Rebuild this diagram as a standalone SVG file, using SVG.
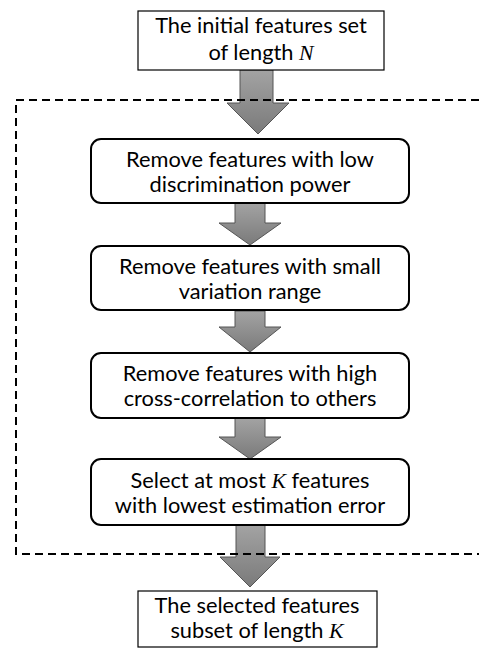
<svg xmlns="http://www.w3.org/2000/svg" width="479" height="648" viewBox="0 0 479 648">
<defs>
<linearGradient id="ag" x1="0" y1="0" x2="0" y2="1">
<stop offset="0" stop-color="#a3a3a3"/>
<stop offset="1" stop-color="#7a7a7a"/>
</linearGradient>
<style>
.t{font-family:Lato,"Open Sans","Liberation Sans",sans-serif;font-size:21.8px;fill:#000;text-anchor:middle}
.m{font-family:"Liberation Serif",serif;font-style:italic}
.sq{fill:#fff;stroke:#000;stroke-width:1.2}
.rd{fill:#fff;stroke:#000;stroke-width:2}
.ar{fill:url(#ag);stroke:#555;stroke-width:1}
.dash{fill:none;stroke:#000;stroke-width:2;stroke-dasharray:8 5}
</style>
</defs>
<rect width="479" height="648" fill="#fff"/>
<g id="connectors">
<path class="ar" d="M240,70 H273 V103 H289 L258,134 L227,103 H240 Z"/>
<path class="ar" d="M235,203 H265 V223 H281 L250,245 L219,223 H235 Z"/>
<path class="ar" d="M235,311 H265 V327 H281 L250,352 L219,327 H235 Z"/>
<path class="ar" d="M235,418 H265 V437 H281 L250,459 L219,437 H235 Z"/>
<path class="ar" d="M236,525 H265 V557 H280 L250,587 L220,557 H236 Z"/>
</g>
<path id="group-boundary" class="dash" d="M479,100 H16 V554 H479"/>
<g id="input">
<rect class="sq" x="138" y="11" width="246" height="59"/>
<text class="t" x="261" y="33">The initial features set</text>
<text class="t" x="261" y="60">of length <tspan class="m">N</tspan></text>
</g>
<g id="step1">
<rect class="rd" x="91" y="139" width="318" height="64" rx="10"/>
<text class="t" x="250" y="167">Remove features with low</text>
<text class="t" x="250" y="192">discrimination power</text>
</g>
<g id="step2">
<rect class="rd" x="91" y="246" width="318" height="64" rx="10"/>
<text class="t" x="250" y="274">Remove features with small</text>
<text class="t" x="250" y="299">variation range</text>
</g>
<g id="step3">
<rect class="rd" x="91" y="353" width="318" height="65" rx="10"/>
<text class="t" x="250" y="381">Remove features with high</text>
<text class="t" x="250" y="406">cross-correlation to others</text>
</g>
<g id="step4">
<rect class="rd" x="91" y="459" width="318" height="66" rx="10"/>
<text class="t" x="250" y="488">Select at most <tspan class="m">K</tspan> features</text>
<text class="t" x="250" y="513">with lowest estimation error</text>
</g>
<g id="output">
<rect class="sq" x="138" y="591" width="239" height="56"/>
<text class="t" x="257" y="613">The selected features</text>
<text class="t" x="257" y="638">subset of length <tspan class="m">K</tspan></text>
</g>
</svg>
